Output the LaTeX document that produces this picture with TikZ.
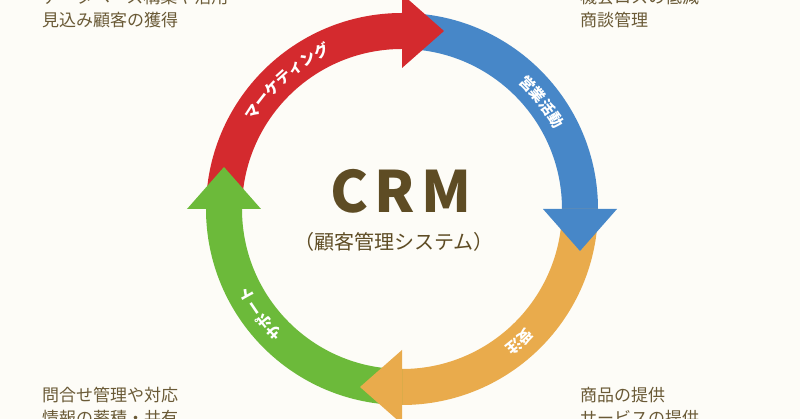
\documentclass[tikz,border=0pt]{standalone}
\usepackage{fontspec}
\setmainfont{Noto Sans CJK JP}
\usetikzlibrary{calc,decorations.text}

\definecolor{crmred}{HTML}{D42A2E}
\definecolor{crmblue}{HTML}{4787C8}
\definecolor{crmorange}{HTML}{E9AB4C}
\definecolor{crmgreen}{HTML}{6CBA3A}
\definecolor{crmbrown}{HTML}{5E4C24}
\definecolor{crmtext}{HTML}{6A5A36}
\definecolor{crmbg}{HTML}{FDFCF7}

\begin{document}
\begin{tikzpicture}[x=1pt,y=1pt,
    corner/.style={anchor=base west,inner sep=0pt,text=crmtext,font=\fontsize{17}{17}\selectfont},
    arclabel/.style={decorate,decoration={text along path,text align={align=center},
        text color=white,text={|\fontsize{15}{15}\selectfont\bfseries|#1}}}]

    % Background and frame
    \fill [crmbg] (-402,-210) rectangle (398,209);
    \useasboundingbox (-402,-210) rectangle (398,209);
    \clip (-402,-210) rectangle (398,209);

    % Marketing band (180 to 90)
    \fill [crmred] (180:196pt) arc [start angle=180, end angle=90, radius=196pt]
        -- (90:160pt) arc [start angle=90, end angle=180, radius=160pt] -- cycle;

    % Sales band (90 to 0)
    \fill [crmblue] (90:196pt) arc [start angle=90, end angle=0, radius=196pt]
        -- (0:160pt) arc [start angle=0, end angle=90, radius=160pt] -- cycle;

    % Order band (0 to -90)
    \fill [crmorange] (0:196pt) arc [start angle=0, end angle=-90, radius=196pt]
        -- (-90:160pt) arc [start angle=-90, end angle=0, radius=160pt] -- cycle;

    % Support band (-90 to -180)
    \fill [crmgreen] (-90:196pt) arc [start angle=-90, end angle=-180, radius=196pt]
        -- (-180:160pt) arc [start angle=-180, end angle=-90, radius=160pt] -- cycle;

    % Arrow heads
    \fill [crmred] (90:141pt) -- (90:215pt) -- ($(90:178pt)+(0:42pt)$) -- cycle;
    \fill [crmblue] (0:141pt) -- (0:215pt) -- ($(0:178pt)+(-90:42pt)$) -- cycle;
    \fill [crmorange] (-90:141pt) -- (-90:215pt) -- ($(-90:178pt)+(-180:42pt)$) -- cycle;
    \fill [crmgreen] (180:141pt) -- (180:215pt) -- ($(180:178pt)+(90:42pt)$) -- cycle;

    % Labels along the ring
    \path [arclabel={マーケティング}] (162:172pt) arc [start angle=162, end angle=102, radius=172pt];
    \path [arclabel={営業活動}] (67.5:172pt) arc [start angle=67.5, end angle=7.5, radius=172pt];
    \path [arclabel={受注}] (-18.5:172pt) arc [start angle=-18.5, end angle=-78.5, radius=172pt];
    \path [arclabel={サポート}] (246.5:172pt) arc [start angle=246.5, end angle=186.5, radius=172pt];

    % Centre title
    \node [anchor=base,text=crmbrown,font=\fontsize{57}{57}\selectfont\bfseries] (crm) at (-1,-4) {C\kern6pt R\kern6pt M};
    \node [anchor=base,text=crmbrown,font=\fontsize{20}{20}\selectfont] (crmsub) at (-8,-41) {（顧客管理システム）};

    % Corner notes
    \node [corner] (mkt1) at (-360,205.5) {データベース構築や活用};
    \node [corner] (mkt2) at (-360,182.5) {見込み顧客の獲得};
    \node [corner] (sales1) at (178,205.5) {機会ロスの低減};
    \node [corner] (sales2) at (178,182.5) {商談管理};
    \node [corner] (sup1) at (-360,-192.5) {問合せ管理や対応};
    \node [corner] (sup2) at (-360,-215.5) {情報の蓄積・共有};
    \node [corner] (ord1) at (178,-192.5) {商品の提供};
    \node [corner] (ord2) at (178,-215.5) {サービスの提供};

\end{tikzpicture}
\end{document}
